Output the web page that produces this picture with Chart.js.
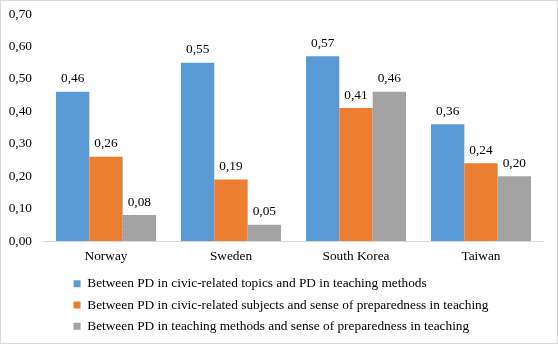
<!DOCTYPE html>
<html>
<head>
<meta charset="utf-8">
<script src="https://cdn.jsdelivr.net/npm/chart.js@4"></script>
<style>
  body { margin: 0; background: #fff; }
  #wrap { position: relative; width: 556px; height: 342px; border: 1px solid #d9d9d9; }
</style>
</head>
<body>
<div id="wrap"><canvas id="chart"></canvas></div>
<script>
const countries = ['Norway', 'Sweden', 'South Korea', 'Taiwan'];
const topicsVsMethods = [0.46, 0.55, 0.57, 0.36];
const subjectsVsPreparedness = [0.26, 0.19, 0.41, 0.24];
const methodsVsPreparedness = [0.08, 0.05, 0.46, 0.20];
const seriesNames = [
    'Between PD in civic-related topics and PD in teaching methods',
    'Between PD in civic-related subjects and sense of preparedness in teaching',
    'Between PD in teaching methods and sense of preparedness in teaching'
];

const serif = "'Liberation Serif', 'Times New Roman', serif";
const fontSize = 13.33;
const fmt = v => v.toFixed(2).replace('.', ',');

// stippled grey fill for the third series
function stipple() {
    const c = document.createElement('canvas');
    c.width = 4; c.height = 4;
    const g = c.getContext('2d');
    g.fillStyle = '#a5a5a5';
    g.fillRect(0, 0, 4, 4);
    g.fillStyle = '#959595';
    g.fillRect(0, 0, 1, 1);
    g.fillRect(2, 2, 1, 1);
    return g.createPattern(c, 'repeat');
}

// value labels above each bar
const valueLabels = {
    id: 'valueLabels',
    afterDatasetsDraw(chart) {
        const ctx = chart.ctx;
        ctx.save();
        ctx.font = fontSize + 'px ' + serif;
        ctx.fillStyle = '#000';
        ctx.textAlign = 'center';
        ctx.textBaseline = 'middle';
        chart.data.datasets.forEach((ds, i) => {
            chart.getDatasetMeta(i).data.forEach((bar, j) => {
                ctx.fillText(fmt(ds.data[j]), bar.x, bar.y - 13);
            });
        });
        ctx.restore();
    }
};

// keep legend rows left-aligned but centre the whole block
const centerLegendBlock = {
    id: 'centerLegendBlock',
    afterLayout(chart) {
        const lg = chart.legend;
        if (!lg || !lg.lineWidths) return;
        const pad = lg.options.labels.padding;
        const widest = Math.max(...lg.lineWidths) - pad;
        lg.left = (chart.width - widest) / 2 - pad + 2;
    }
};

const ctx = document.getElementById('chart').getContext('2d');
const chart = new Chart(ctx, {
    type: 'bar',
    data: {
        labels: countries,
        datasets: [
            { label: seriesNames[0], data: topicsVsMethods, backgroundColor: '#5b9bd5' },
            { label: seriesNames[1], data: subjectsVsPreparedness, backgroundColor: '#ed7d31' },
            { label: seriesNames[2], data: methodsVsPreparedness, backgroundColor: stipple() }
        ]
    },
    options: {
        responsive: true,
        maintainAspectRatio: false,
        animation: false,
        layout: { padding: { left: 0, right: 13.5, top: 0, bottom: 0 } },
        datasets: { bar: { categoryPercentage: 0.8, barPercentage: 1.0 } },
        scales: {
            x: {
                grid: { display: false, drawTicks: false },
                border: { color: '#d9d9d9' },
                ticks: { color: '#000', font: { family: serif, size: fontSize }, padding: 7 },
                afterFit: s => { s.height = 28; }
            },
            y: {
                min: 0,
                max: 0.7,
                grid: { display: false, drawTicks: false },
                border: { display: false },
                ticks: {
                    stepSize: 0.1,
                    color: '#000',
                    font: { family: serif, size: fontSize },
                    padding: 11.5,
                    callback: v => fmt(v)
                },
                afterFit: s => {
                    s.width = 42.5;
                    s.paddingTop = 13;
                    s.paddingBottom = 0;
                }
            }
        },
        plugins: {
            tooltip: { enabled: false },
            legend: {
                position: 'bottom',
                align: 'start',
                labels: {
                    boxWidth: 7,
                    boxHeight: 7,
                    padding: 8,
                    color: '#000',
                    font: { family: serif, size: fontSize }
                }
            }
        }
    },
    plugins: [valueLabels, centerLegendBlock]
});
</script>
</body>
</html>
